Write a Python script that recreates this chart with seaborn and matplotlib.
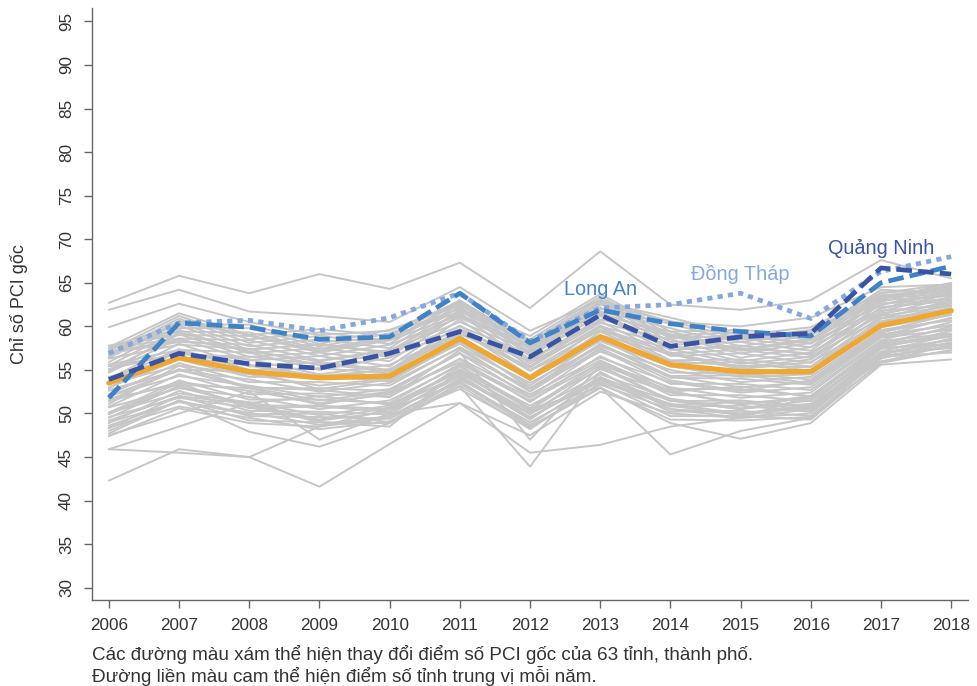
import pandas as pd
import matplotlib
matplotlib.use("Agg")
import matplotlib.pyplot as plt
import seaborn as sns

# =========================
# DATOS
# =========================

nam = [2006, 2007, 2008, 2009, 2010, 2011, 2012, 2013, 2014, 2015, 2016, 2017, 2018]

trung_vi = [53.5, 56.4, 54.8, 54.1, 54.3, 58.6, 54.1, 58.8, 55.6, 54.8, 54.8, 60.1, 61.8]
long_an = [51.8, 60.4, 59.9, 58.5, 58.8, 63.8, 58.1, 61.9, 60.3, 59.4, 58.9, 65.0, 66.9]
dong_thap = [56.9, 60.4, 60.7, 59.5, 61.0, 63.8, 58.3, 62.1, 62.5, 63.8, 60.9, 66.3, 68.0]
quang_ninh = [53.9, 56.9, 55.7, 55.2, 56.9, 59.4, 56.5, 61.3, 57.7, 58.8, 59.2, 66.7, 66.0]

# 60 tinh con lai (duong xam)
diem_xam = [
    [62.7, 65.8, 63.8, 66.0, 64.3, 67.3, 62.1, 68.6, 62.5, 61.9, 63.0, 67.6, 65.5],
    [61.9, 64.2, 61.7, 61.2, 60.5, 64.5, 59.5, 63.0, 60.5, 60.0, 61.0, 64.5, 64.8],
    [59.9, 62.6, 60.5, 59.0, 59.5, 62.8, 57.5, 61.5, 59.0, 58.5, 59.5, 63.5, 64.0],
    [42.3, 45.9, 45.0, 41.6, 46.5, 51.2, 47.5, 52.5, 50.0, 49.5, 52.0, 57.5, 58.0],
    [45.9, 45.5, 45.0, 48.5, 50.5, 53.5, 48.5, 53.0, 48.9, 47.1, 48.9, 55.6, 56.2],
    [45.9, 48.5, 51.2, 52.0, 51.0, 55.0, 49.5, 54.0, 51.5, 50.5, 51.5, 57.0, 57.5],
    [48.0, 51.5, 47.9, 46.2, 48.9, 53.1, 43.9, 54.8, 50.5, 50.0, 51.0, 56.5, 57.0],
    [47.5, 50.0, 52.5, 47.0, 50.0, 51.2, 45.5, 46.4, 48.5, 49.5, 50.5, 56.0, 57.2],
    [50.0, 53.0, 51.0, 49.0, 48.5, 55.0, 50.5, 53.0, 45.3, 48.0, 49.5, 56.5, 57.8],
    [52.0, 55.0, 53.0, 51.5, 52.5, 57.0, 47.0, 55.5, 51.5, 50.5, 52.0, 58.0, 59.0],
    [54.2, 56.5, 55.5, 54.0, 55.1, 58.9, 53.8, 59.4, 56.0, 55.5, 55.3, 60.6, 62.1],
    [53.8, 57.4, 55.0, 55.2, 54.6, 59.5, 54.9, 59.0, 56.8, 55.1, 55.9, 60.4, 62.6],
    [55.1, 56.9, 56.2, 54.5, 55.6, 59.2, 55.3, 60.1, 56.1, 56.2, 55.4, 61.2, 62.3],
    [54.0, 58.0, 55.4, 55.9, 55.0, 60.1, 55.0, 59.6, 57.4, 55.7, 56.5, 60.9, 63.0],
    [55.6, 57.3, 57.0, 55.0, 56.4, 59.7, 56.1, 60.6, 56.6, 56.9, 55.8, 61.8, 62.4],
    [54.7, 58.6, 56.1, 56.6, 55.4, 60.8, 55.4, 60.0, 57.9, 56.0, 57.0, 61.3, 63.4],
    [56.3, 57.9, 57.4, 55.5, 57.0, 60.0, 56.8, 61.3, 56.9, 57.3, 56.4, 62.2, 62.9],
    [55.0, 59.1, 56.5, 57.0, 56.0, 61.4, 55.7, 60.4, 58.5, 56.4, 57.6, 61.7, 63.8],
    [56.9, 58.2, 57.9, 56.1, 57.3, 60.5, 57.2, 61.7, 57.3, 57.8, 56.7, 62.6, 63.1],
    [55.5, 59.6, 56.9, 57.5, 56.5, 61.9, 56.2, 60.8, 58.9, 56.9, 58.1, 62.0, 64.2],
    [57.5, 58.6, 58.4, 56.6, 57.9, 61.0, 57.5, 62.2, 57.9, 58.2, 57.2, 63.0, 63.5],
    [55.9, 60.1, 57.3, 58.0, 57.0, 62.3, 56.6, 61.3, 59.4, 57.3, 58.6, 62.4, 64.5],
    [57.8, 59.0, 58.9, 57.0, 58.4, 61.3, 57.8, 62.7, 58.2, 58.6, 57.6, 63.3, 63.7],
    [56.4, 60.4, 57.7, 58.5, 57.5, 62.6, 57.0, 61.7, 59.8, 57.7, 59.0, 62.8, 64.8],
    [57.4, 59.4, 59.3, 57.4, 58.8, 61.7, 58.2, 63.1, 58.6, 59.0, 58.1, 63.6, 64.0],
    [56.8, 60.9, 58.1, 58.9, 58.0, 62.9, 57.4, 62.0, 60.3, 58.2, 59.3, 63.1, 65.0],
    [57.0, 59.8, 59.8, 57.7, 59.2, 62.0, 58.5, 63.4, 59.0, 59.3, 58.5, 63.9, 64.2],
    [57.2, 61.2, 58.5, 59.3, 58.4, 62.8, 57.7, 62.5, 60.6, 58.6, 59.6, 63.4, 64.6],
    [57.6, 60.2, 60.2, 58.0, 59.6, 62.4, 58.9, 63.7, 59.4, 59.6, 58.9, 64.2, 63.8],
    [57.6, 61.5, 59.0, 59.7, 58.9, 63.0, 58.1, 62.8, 61.0, 59.0, 59.9, 63.8, 64.9],
    [52.9, 57.2, 55.6, 54.3, 55.0, 59.6, 54.3, 59.9, 55.7, 55.9, 54.9, 60.9, 62.0],
    [55.4, 56.8, 56.5, 55.7, 54.8, 59.1, 56.0, 59.5, 57.0, 55.3, 56.2, 61.5, 62.7],
    [54.8, 59.3, 57.1, 56.0, 57.2, 61.6, 55.3, 61.2, 57.6, 57.5, 56.9, 62.1, 63.3],
    [57.1, 58.4, 57.4, 57.9, 56.9, 61.2, 57.9, 61.4, 59.1, 57.2, 58.4, 63.2, 64.4],
    [56.6, 60.6, 59.0, 57.2, 58.6, 62.1, 56.9, 62.9, 58.7, 58.9, 58.0, 62.6, 63.6],
    [53.0, 56.2, 54.2, 54.3, 53.7, 58.2, 53.9, 58.3, 55.4, 54.2, 54.5, 59.9, 61.3],
    [53.4, 55.5, 54.5, 53.2, 54.0, 58.0, 53.2, 58.5, 54.7, 54.6, 53.9, 59.4, 61.4],
    [52.2, 55.8, 53.6, 53.6, 53.2, 57.6, 53.5, 57.7, 55.0, 53.6, 54.2, 59.6, 60.7],
    [52.6, 54.9, 53.9, 52.5, 53.5, 57.5, 52.6, 57.9, 54.1, 54.0, 53.3, 58.9, 61.0],
    [51.5, 55.1, 52.9, 52.9, 52.6, 56.9, 52.9, 57.1, 54.3, 53.0, 53.6, 59.1, 60.1],
    [52.0, 54.3, 53.2, 51.9, 52.8, 56.9, 51.9, 57.3, 53.4, 53.4, 52.7, 58.4, 60.5],
    [50.8, 54.5, 52.2, 52.3, 51.9, 56.3, 52.2, 56.4, 53.6, 52.4, 53.0, 58.7, 59.6],
    [51.4, 53.6, 52.6, 51.2, 52.2, 56.2, 51.3, 56.6, 52.8, 52.8, 52.0, 57.9, 60.0],
    [50.1, 53.8, 51.6, 51.6, 51.2, 55.7, 51.5, 55.8, 53.0, 51.8, 52.4, 58.3, 59.2],
    [50.7, 52.9, 51.9, 50.5, 51.5, 55.5, 50.6, 55.9, 52.1, 52.1, 51.4, 57.5, 59.5],
    [49.5, 53.2, 50.9, 50.9, 50.5, 55.1, 50.9, 55.1, 52.4, 51.2, 51.7, 57.8, 58.8],
    [50.1, 52.3, 51.3, 49.8, 50.9, 54.8, 49.9, 55.3, 51.4, 51.5, 50.8, 57.1, 59.0],
    [48.9, 52.6, 50.3, 50.2, 49.9, 54.6, 50.2, 54.5, 51.7, 50.6, 51.1, 57.4, 58.4],
    [49.6, 51.8, 50.7, 49.2, 50.2, 54.2, 49.3, 54.7, 50.8, 50.9, 50.2, 56.7, 58.6],
    [48.3, 52.0, 49.7, 49.6, 49.4, 54.0, 49.6, 53.8, 51.1, 50.0, 50.6, 57.0, 58.0],
    [49.0, 51.3, 50.1, 48.7, 49.7, 53.7, 48.7, 54.0, 50.2, 50.3, 49.7, 56.3, 58.2],
    [47.7, 51.5, 49.2, 49.0, 48.9, 53.5, 49.0, 53.3, 50.5, 49.5, 50.0, 56.6, 57.6],
    [48.4, 50.8, 49.5, 48.2, 49.1, 53.2, 48.2, 53.5, 49.7, 49.7, 49.3, 55.9, 57.9],
    [52.7, 55.0, 54.9, 52.8, 53.9, 58.4, 52.9, 58.0, 54.3, 54.4, 53.5, 59.3, 60.9],
    [51.1, 55.5, 53.0, 52.7, 51.9, 57.3, 52.5, 57.5, 53.8, 52.6, 53.8, 58.8, 60.2],
    [51.7, 53.3, 52.9, 51.0, 52.4, 55.9, 51.8, 56.1, 52.5, 53.1, 51.9, 58.1, 59.8],
    [49.9, 53.5, 50.6, 50.8, 50.2, 55.4, 50.4, 55.6, 52.6, 51.0, 52.0, 57.6, 59.1],
    [49.2, 52.0, 51.1, 49.3, 50.7, 54.4, 49.5, 54.2, 51.0, 51.3, 50.4, 56.9, 58.5],
    [48.6, 51.4, 49.9, 50.0, 49.0, 53.9, 50.0, 53.6, 50.9, 49.8, 50.8, 56.5, 57.7],
    [47.4, 50.6, 48.9, 48.5, 49.5, 52.8, 48.4, 52.9, 49.3, 49.2, 49.6, 55.8, 57.3],
]

y_ticks = list(range(30, 100, 5))

# tabla larga para seaborn
filas = []
for i, fila in enumerate(diem_xam):
    for n, d in zip(nam, fila):
        filas.append({"tinh": i, "nam": n, "diem": d})
df_xam = pd.DataFrame(filas)

# =========================
# GRAFICO
# =========================

sns.set_style("ticks")
plt.rcParams["font.family"] = ["Liberation Sans", "DejaVu Sans"]

fig = plt.figure(figsize=(9.78, 6.86), dpi=100)
ax = fig.add_axes([0.0941, 0.1254, 0.8957, 0.8625])

sns.lineplot(data=df_xam, x="nam", y="diem", units="tinh", estimator=None,
             color="#c6c6c6", linewidth=1.4, ax=ax, legend=False)

sns.lineplot(x=nam, y=trung_vi, color="#eea733", linewidth=3.8, ax=ax,
             solid_joinstyle="miter")

sns.lineplot(x=nam, y=dong_thap, color="#84a7dc", linewidth=3.4, ax=ax)
ax.lines[-1].set_dashes([1.1, 1.1])
ax.lines[-1].set_dash_capstyle("butt")

sns.lineplot(x=nam, y=long_an, color="#3f83c6", linewidth=3.4, ax=ax)
ax.lines[-1].set_dashes([3.3, 1.3])
ax.lines[-1].set_dash_capstyle("butt")

sns.lineplot(x=nam, y=quang_ninh, color="#3953a5", linewidth=3.4, ax=ax)
ax.lines[-1].set_dashes([3.3, 1.3])
ax.lines[-1].set_dash_capstyle("butt")

# etiquetas de provincias
ax.text(2013.0, 64.2, "Long An", color="#4585c7", fontsize=14.3, ha="center", va="center")
ax.text(2015.0, 66.0, "Đồng Tháp", color="#86a8dc", fontsize=14.3, ha="center", va="center")
ax.text(2017.0, 68.9, "Quảng Ninh", color="#3953a5", fontsize=14.3, ha="center", va="center")

ax.set_xlim(2005.76, 2018.24)
ax.set_ylim(28.6, 96.5)
ax.set_xticks(nam)
ax.set_xticklabels([str(n) for n in nam])
ax.set_yticks(y_ticks)
ax.set_yticklabels([str(t) for t in y_ticks], rotation=90, va="center")

ax.set_xlabel("")
ax.set_ylabel("Chỉ số PCI gốc", fontsize=13, color="#333333", labelpad=22)

for lado in ["top", "right"]:
    ax.spines[lado].set_visible(False)
for lado in ["left", "bottom"]:
    ax.spines[lado].set_color("#666666")
    ax.spines[lado].set_linewidth(1.0)

ax.tick_params(axis="both", direction="out", length=6, width=1.0, color="#666666",
               labelsize=12.3, labelcolor="#333333", pad=7)

fig.text(0.094, 0.030, "Các đường màu xám thể hiện thay đổi điểm số PCI gốc của 63 tỉnh, thành phố.\n"
         "Đường liền màu cam thể hiện điểm số tỉnh trung vị mỗi năm.",
         fontsize=13.6, color="#333333", ha="left", va="center", linespacing=1.1)

fig.savefig("out.png", dpi=100)
